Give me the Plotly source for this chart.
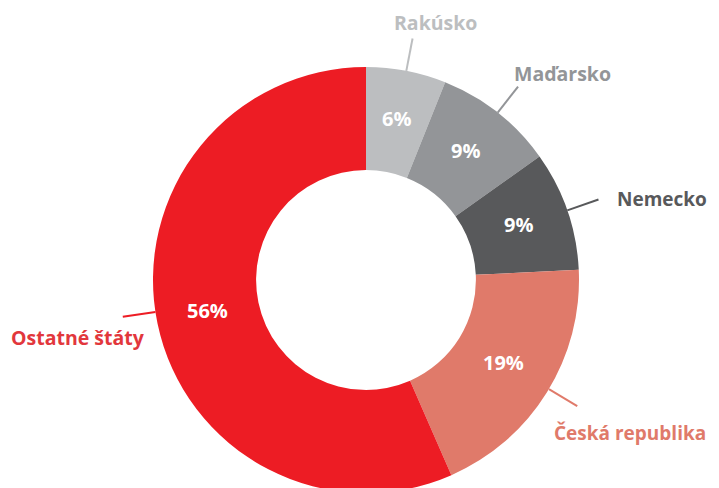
import math
import plotly.graph_objects as go

# Data
categories = ["Rakúsko", "Maďarsko", "Nemecko", "Česká republika", "Ostatné štáty"]
values = [6, 9, 9, 19, 56]
colors = ["#BCBEC0", "#939598", "#58595B", "#E07A6A", "#ED1C24"]
label_colors = ["#BCBEC0", "#939598", "#58595B", "#E07A6A", "#E2373C"]

W, H = 719, 488
OFF = 8  # default page body margin shifts the figure by 8px
# pie geometry in viewport pixels
CXv, CYv, R = 366.0, 280.0, 213.0
HOLE = 0.516
CX, CY = CXv - OFF, CYv - OFF

fig = go.Figure()
fig.add_trace(go.Pie(
    labels=categories,
    values=values,
    sort=False,
    direction="clockwise",
    rotation=0,
    hole=HOLE,
    marker=dict(colors=colors, line=dict(width=0)),
    textinfo="none",
    domain=dict(x=[(CX - R) / W, (CX + R) / W],
                y=[1 - (CY + R) / H, 1 - (CY - R) / H]),
    showlegend=False,
    hoverinfo="label+value",
))

# Leader lines, outside labels and inside percentages computed from slice angles
total = sum(values)
# per label: angle tweak (deg), label offset from line end (px), anchors, size
label_style = [
    (0.0, 23, 0, "center", "bottom", 19.5),
    (0.0, -6, -13, "left", "middle", 19.5),
    (0.0, 17, -1, "left", "middle", 19),
    (-1.0, -25, 12, "left", "top", 19),
    (3.2, 24, 5, "right", "top", 19.5),
]
rmid = R * (1 + HOLE) / 2.0
cum = 0.0
for i, v in enumerate(values):
    tweak, dx, dy, xa, ya, fs = label_style[i]
    mid0 = (cum + v / 2.0) / total * 2 * math.pi
    mid = mid0 + math.radians(tweak)
    cum += v
    # percentage inside the ring
    px = CX + rmid * math.sin(mid0)
    py = CY - rmid * math.cos(mid0) - 3
    fig.add_annotation(xref="paper", yref="paper", x=px / W, y=1 - py / H,
                       xanchor="center", yanchor="middle", showarrow=False,
                       text="<b>%d%%</b>" % v,
                       font=dict(family="Open Sans", size=20, color="white"))
    # leader line
    x0 = CX + R * math.sin(mid)
    y0 = CY - R * math.cos(mid)
    x1 = CX + (R + 33) * math.sin(mid)
    y1 = CY - (R + 33) * math.cos(mid)
    fig.add_shape(type="line", xref="paper", yref="paper",
                  x0=x0 / W, y0=1 - y0 / H, x1=x1 / W, y1=1 - y1 / H,
                  line=dict(color=colors[i], width=2))
    fig.add_annotation(xref="paper", yref="paper",
                       x=(x1 + dx) / W, y=1 - (y1 + dy) / H,
                       xanchor=xa, yanchor=ya, showarrow=False,
                       text="<b>" + categories[i] + "</b>",
                       font=dict(family="Open Sans", size=fs, color=label_colors[i]))

fig.update_layout(
    width=W, height=H,
    margin=dict(l=0, r=0, t=0, b=0),
    paper_bgcolor="white",
    plot_bgcolor="white",
)
fig.write_html("out.html")
